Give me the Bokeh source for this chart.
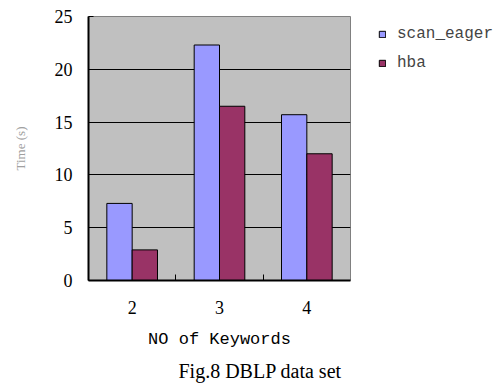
from bokeh.plotting import figure
from bokeh.layouts import row
from bokeh.models import FixedTicker, Legend, LegendItem, Title, ColumnDataSource
from bokeh.embed import file_html
from bokeh.resources import INLINE

categories = ["2", "3", "4"]
scan_eager = [7.3, 22.3, 15.7]
hba = [2.9, 16.5, 12.0]
series_names = ["scan_eager", "hba"]
y_ticks = [0, 5, 10, 15, 20, 25]

colors = ["#9999FF", "#993366"]
xs = [i + 1 for i in range(len(categories))]
off = 0.145
w = 0.29

p = figure(width=351, height=387, output_backend="svg", toolbar_location=None,
           x_range=(0.5, 3.5), y_range=(0, 25),
           min_border_left=88, min_border_right=1, min_border_top=16, min_border_bottom=105)
p.background_fill_color = "#C0C0C0"
p.border_fill_color = "white"
p.outline_line_color = "#808080"
p.outline_line_width = 1

src = ColumnDataSource(dict(x1=[x - off for x in xs], x2=[x + off for x in xs], a=scan_eager, b=hba))
p.vbar(x="x1", top="a", width=w, source=src, fill_color=colors[0], line_color="black", line_width=1)
p.vbar(x="x2", top="b", width=w, source=src, fill_color=colors[1], line_color="black", line_width=1)

p.xgrid.visible = False
p.ygrid.grid_line_color = "black"
p.ygrid.grid_line_width = 1
p.ygrid.ticker = FixedTicker(ticks=y_ticks)

p.yaxis.ticker = FixedTicker(ticks=y_ticks)
p.yaxis.axis_line_color = "black"
p.yaxis.axis_line_width = 2
p.yaxis.major_tick_in = 5
p.yaxis.major_tick_out = 0
p.yaxis.minor_tick_line_color = None
p.yaxis.major_label_text_font = "Liberation Serif"
p.yaxis.major_label_text_font_size = "18px"
p.yaxis.major_label_text_color = "black"
p.yaxis.major_label_standoff = 16
p.yaxis.axis_label = "Time (s)"
p.yaxis.axis_label_text_font = "Liberation Serif"
p.yaxis.axis_label_text_font_size = "13px"
p.yaxis.axis_label_text_font_style = "normal"
p.yaxis.axis_label_text_color = "#a0a0a0"
p.yaxis.axis_label_standoff = 24

p.xaxis.ticker = FixedTicker(ticks=xs, minor_ticks=[1.5, 2.5])
p.xaxis.major_label_overrides = {x: c for x, c in zip(xs, categories)}
p.xaxis.axis_line_color = "black"
p.xaxis.axis_line_width = 2
p.xaxis.major_tick_line_color = None
p.xaxis.minor_tick_line_color = "black"
p.xaxis.minor_tick_in = 6
p.xaxis.minor_tick_out = 0
p.xaxis.major_label_text_font = "Liberation Serif"
p.xaxis.major_label_text_font_size = "18px"
p.xaxis.major_label_text_color = "black"
p.xaxis.major_label_standoff = 14
p.xaxis.axis_label = "NO of Keywords"
p.xaxis.axis_label_text_font = "Liberation Mono"
p.xaxis.axis_label_text_font_size = "17px"
p.xaxis.axis_label_text_font_style = "normal"
p.xaxis.axis_label_text_color = "black"
p.xaxis.axis_label_standoff = 13

cap = Title(text="Fig.8 DBLP data set", align="left", offset=90,
            text_font="Liberation Serif", text_font_size="20px",
            text_font_style="normal", text_color="black", standoff=12)
p.add_layout(cap, "below")

# legend panel
lf = figure(width=151, height=387, output_backend="svg", toolbar_location=None,
            x_range=(0, 1), y_range=(0, 1), min_border=0, min_border_left=18)
lf.axis.visible = False
lf.grid.visible = False
lf.outline_line_color = None
lf.background_fill_color = "white"
items = []
for name, c in zip(series_names, colors):
    r = lf.vbar(x=[5], top=[5], width=0.1, fill_color=c, line_color="black", line_width=1)
    items.append(LegendItem(label=name, renderers=[r]))
legend = Legend(items=items, location="top_left")
legend.background_fill_alpha = 0
legend.border_line_color = None
legend.label_text_font = "Liberation Mono"
legend.label_text_font_size = "16px"
legend.glyph_width = 8
legend.glyph_height = 8
legend.spacing = 11
legend.label_standoff = 11
legend.padding = 0
legend.margin = 9
lf.add_layout(legend)

layout = row(p, lf, spacing=0)
open("out.html", "w").write(file_html(layout, INLINE))
